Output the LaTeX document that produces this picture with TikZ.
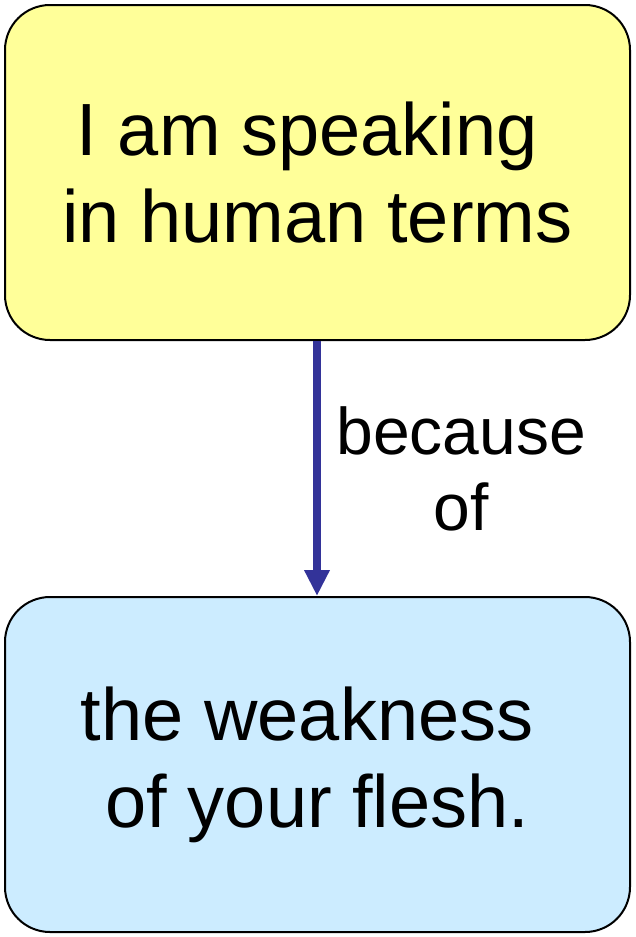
\documentclass[tikz,border=0pt]{standalone}
\usepackage{fontspec}
\setmainfont{Liberation Sans}
\usetikzlibrary{arrows.meta}

\definecolor{boxyellow}{HTML}{FFFF99}
\definecolor{boxblue}{HTML}{CCECFF}
\definecolor{arrowblue}{HTML}{333399}

\newcommand\BoxW{625pt}
\newcommand\BoxH{335pt}
\newcommand\TrailSp{\kern 0.278em}

\tikzset{
  concept/.style={draw=black, line width=2pt, rounded corners=45pt,
    minimum width=\BoxW, minimum height=\BoxH, align=center,
    font=\fontsize{74}{87}\selectfont},
  link/.style={draw=arrowblue, line width=8pt,
    -{Triangle[width=24pt, length=26pt]}},
  linklabel/.style={align=center, font=\fontsize{66}{76}\selectfont}
}

\begin{document}
\begin{tikzpicture}[x=1pt, y=1pt]

  \useasboundingbox (0,0) rectangle (635,-937);

  \node[concept, fill=boxyellow] (speak) at (317.5,-172.5) {I am speaking\TrailSp\\in human terms}; %% top
  \node[concept, fill=boxblue] (flesh) at (317.5,-764.5) {the weakness\TrailSp\\of your flesh.}; %% bottom

  \draw[link] (speak.south -| 317,0) -- (flesh.north -| 317,0)
    node[midway, right=12pt, linklabel] {because\\of}; %% speak flesh

\end{tikzpicture}
\end{document}
